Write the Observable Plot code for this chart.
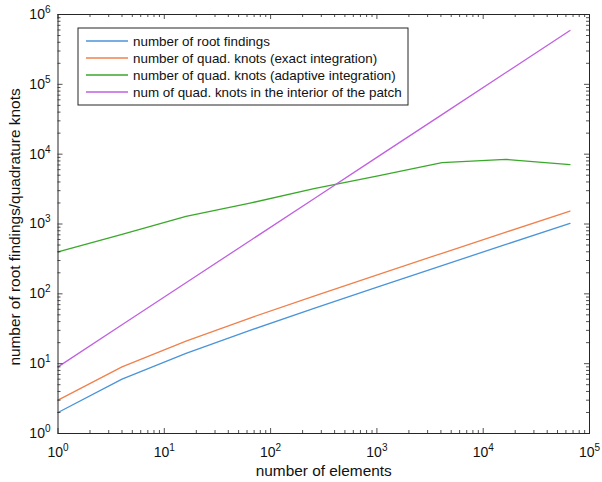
<!DOCTYPE html>
<html><head><meta charset="utf-8">
<script src="https://cdn.jsdelivr.net/npm/d3@7"></script>
<script src="https://cdn.jsdelivr.net/npm/@observablehq/plot@0.6"></script>
<style>
body{margin:0;background:#fff}
svg{font-family:"Liberation Sans",Arial,sans-serif}
</style>
</head><body><div id="chart"></div>
<script>
// ---- data ----
const elements = [1, 4, 16, 64, 256, 1024, 4096, 16384, 65536];
const rootFindings = [2, 6, 14, 30, 62, 126, 254, 510, 1022];
const exactKnots = [3, 9, 21, 45, 93, 189, 381, 765, 1533];
const adaptiveKnots = [400, 710, 1290, 1990, 3200, 4900, 7550, 8400, 7100];
const interiorKnots = [9, 36, 144, 576, 2304, 9216, 36864, 147456, 589824];
const seriesNames = [
  "number of root findings",
  "number of quad. knots (exact integration)",
  "number of quad. knots (adaptive integration)",
  "num of quad. knots in the interior of the patch"
];
const seriesColors = ["#4a94d8", "#f0804c", "#3aa82a", "#c060e0"];
const xTicks = [1, 10, 100, 1e3, 1e4, 1e5];
const yTicks = [1, 10, 100, 1e3, 1e4, 1e5, 1e6];
const xLabel = "number of elements";
const yLabel = "number of root findings/quadrature knots";

// ---- build table ----
const seriesValues = [rootFindings, exactKnots, adaptiveKnots, interiorKnots];
const table = [];
seriesValues.forEach((vals, s) => vals.forEach((v, i) => table.push({series: seriesNames[s], x: elements[i], y: v})));

const minorOf = (ticks) => {
  const out = [];
  for (let k = 0; k < ticks.length - 1; k++) for (let m = 2; m <= 9; m++) out.push(ticks[k] * m);
  return out;
};
const xMinor = minorOf(xTicks), yMinor = minorOf(yTicks);

const W = 602, H = 482, ML = 57.5, MR = 13, MT = 14, MB = 49;
const FW = W - ML - MR, FH = H - MT - MB;
const ink = "#262626";
const expFmt = d => "10^" + Math.round(Math.log10(d));

const tx = (data, len) => [
  Plot.tickX(data, {x: d => d, insetTop: FH - len, stroke: ink, strokeWidth: 0.8}),
  Plot.tickX(data, {x: d => d, insetBottom: FH - len, stroke: ink, strokeWidth: 0.8})
];
const ty = (data, len) => [
  Plot.tickY(data, {y: d => d, insetRight: FW - len, stroke: ink, strokeWidth: 0.8}),
  Plot.tickY(data, {y: d => d, insetLeft: FW - len, stroke: ink, strokeWidth: 0.8})
];

const plot = Plot.plot({
  width: W, height: H,
  marginLeft: ML, marginRight: MR, marginTop: MT, marginBottom: MB,
  style: {fontFamily: '"Liberation Sans", Arial, sans-serif', background: "#fff", color: ink},
  x: {type: "log", domain: [1, 1e5]},
  y: {type: "log", domain: [1, 1e6]},
  color: {domain: seriesNames, range: seriesColors},
  marks: [
    Plot.line(table, {x: "x", y: "y", z: "series", stroke: "series", strokeWidth: 1.3}),
    ...tx(xTicks, 5), ...tx(xMinor, 3),
    ...ty(yTicks, 5), ...ty(yMinor, 3),
    Plot.frame({stroke: ink, strokeWidth: 1}),
    Plot.axisX(xTicks, {anchor: "bottom", tickSize: 0, tickPadding: 14, tickFormat: expFmt, fontSize: 14, fill: "#111", label: null}),
    Plot.axisY(yTicks, {anchor: "left", tickSize: 0, tickPadding: 7.5, tickFormat: expFmt, fontSize: 14, fill: "#111", label: null}),
    Plot.text([xLabel], {frameAnchor: "bottom", dy: 38, textAnchor: "middle", lineAnchor: "middle", fontSize: 15.4, fill: "#111"}),
    Plot.text([yLabel], {frameAnchor: "left", dx: -42.5, dy: 3, rotate: -90, textAnchor: "middle", lineAnchor: "middle", fontSize: 15.4, fill: "#111"})
  ]
});

// superscript exponents in tick labels
d3.select(plot).selectAll('g[aria-label="x-axis tick label"] text, g[aria-label="y-axis tick label"] text').each(function () {
  const t = this.textContent;
  if (!t.includes("^")) return;
  const [b, e] = t.split("^");
  const sel = d3.select(this);
  sel.text("");
  sel.append("tspan").text(b);
  sel.append("tspan").attr("dy", "-6").attr("font-size", "10px").text(e);
});

// legend box inside the axes
const svg = d3.select(plot);
const lg = svg.append("g").attr("aria-label", "legend").attr("text-anchor", "start");
lg.append("rect").attr("x", 78).attr("y", 28).attr("width", 330).attr("height", 77)
  .attr("fill", "#fff").attr("stroke", ink).attr("stroke-width", 1);
seriesNames.forEach((name, i) => {
  const y = 41 + i * 17;
  lg.append("line").attr("x1", 86).attr("x2", 128).attr("y1", y).attr("y2", y)
    .attr("stroke", seriesColors[i]).attr("stroke-width", 1.3);
  lg.append("text").attr("x", 133).attr("y", y).attr("dy", "0.35em").attr("text-anchor", "start")
    .attr("font-size", "13.4px").attr("fill", "#111").text(name);
});

document.getElementById("chart").appendChild(plot);
</script>
</body></html>
